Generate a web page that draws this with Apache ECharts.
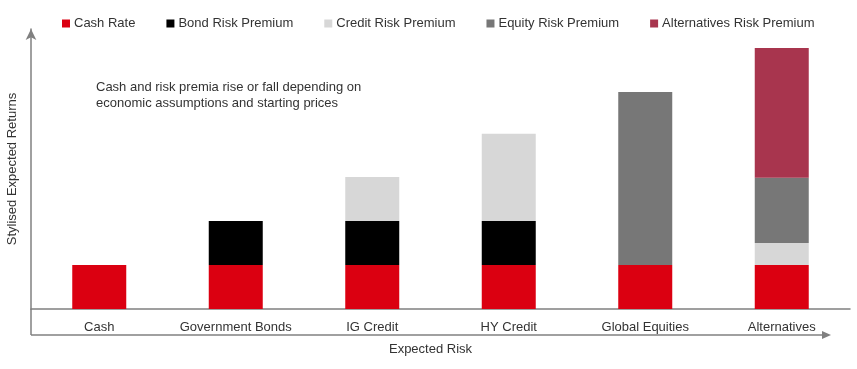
<!DOCTYPE html>
<html>
<head>
<meta charset="utf-8">
<script src="https://cdn.jsdelivr.net/npm/echarts@6/dist/echarts.min.js"></script>
<style>html,body{margin:0;padding:0;background:#fff}#c{width:857px;height:369px}</style>
</head>
<body>
<div id="c"></div>
<script>
const categories = ['Cash', 'Government Bonds', 'IG Credit', 'HY Credit', 'Global Equities', 'Alternatives'];
const cashRate = [1, 1, 1, 1, 1, 1];
const bondRiskPremium = [0, 1, 1, 1, 0, 0];
const creditRiskPremium = [0, 0, 1, 1.98, 0, 0.5];
const equityRiskPremium = [0, 0, 0, 0, 3.93, 1.48];
const alternativesRiskPremium = [0, 0, 0, 0, 0, 2.95];
const seriesNames = ['Cash Rate', 'Bond Risk Premium', 'Credit Risk Premium', 'Equity Risk Premium', 'Alternatives Risk Premium'];
const annotation = 'Cash and risk premia rise or fall depending on\neconomic assumptions and starting prices';

const colors = ['#db0011', '#000000', '#d7d7d7', '#777777', '#a8354e'];
const font = 'Liberation Sans, Arial, sans-serif';
const axisGrey = '#808080';

const chart = echarts.init(document.getElementById('c'));
const data = [cashRate, bondRiskPremium, creditRiskPremium, equityRiskPremium, alternativesRiskPremium];

chart.setOption({
  animation: false,
  color: colors,
  textStyle: { fontFamily: font },
  legend: {
    left: 62, top: 17, padding: 0,
    icon: 'rect', itemWidth: 8, itemHeight: 8, itemGap: 31,
    textStyle: { fontSize: 13, color: '#333', fontFamily: font, padding: [0, 0, 0, -1] },
    data: seriesNames
  },
  grid: { left: 31, right: 7, top: 29, bottom: 60, outerBoundsMode: 'none', containLabel: false },
  xAxis: {
    type: 'category',
    data: categories,
    axisLine: { lineStyle: { color: axisGrey, width: 1.5 } },
    axisTick: { show: false },
    axisLabel: { color: '#333', fontSize: 13, margin: 12, fontFamily: font, interval: 0 },
    name: 'Expected Risk',
    nameLocation: 'middle',
    nameGap: 34,
    nameTextStyle: { color: '#333', fontSize: 13, fontFamily: font, padding: [0, 20, 0, 0] }
  },
  yAxis: {
    type: 'value',
    min: 0, max: 6.36,
    splitLine: { show: false },
    axisLabel: { show: false },
    axisTick: { show: false },
    axisLine: { show: true, lineStyle: { color: axisGrey, width: 1.5 }, symbol: ['none', 'arrow'], symbolSize: [8, 11] },
    name: 'Stylised Expected Returns',
    nameLocation: 'middle',
    nameGap: 12,
    nameTextStyle: { color: '#333', fontSize: 13, fontFamily: font }
  },
  graphic: [
    { type: 'line', shape: { x1: 31, y1: 309, x2: 31, y2: 335 }, style: { stroke: axisGrey, lineWidth: 1.5 } },
    { type: 'line', shape: { x1: 31, y1: 335, x2: 824, y2: 335 }, style: { stroke: axisGrey, lineWidth: 1.5 } },
    { type: 'polygon', shape: { points: [[822, 331], [831, 335], [822, 339]] }, style: { fill: axisGrey } },
    { type: 'text', left: 96, top: 79, style: { text: annotation, fontSize: 13, lineHeight: 16, fill: '#333', font: '13px ' + font } }
  ],
  series: seriesNames.map((n, i) => ({
    name: n,
    type: 'bar',
    stack: 'total',
    barWidth: 54,
    data: data[i],
    itemStyle: { color: colors[i] }
  }))
});
</script>
</body>
</html>
